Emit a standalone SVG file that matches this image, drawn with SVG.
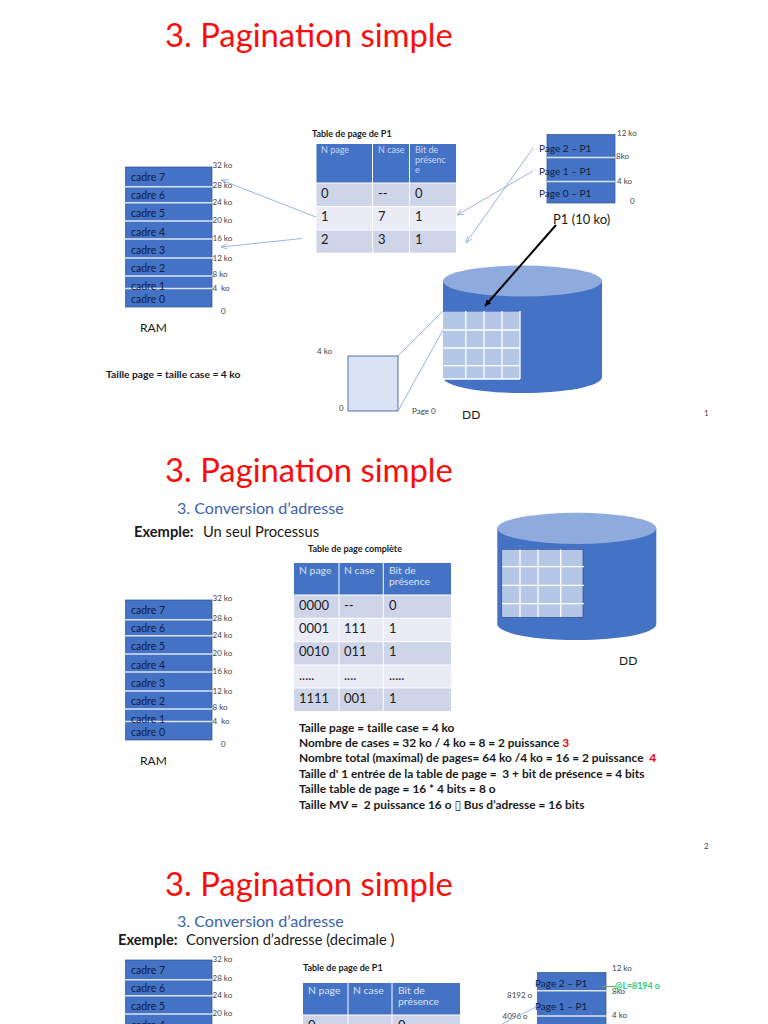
<svg xmlns="http://www.w3.org/2000/svg" width="768" height="1024" viewBox="0 0 768 1024">
<style>
text{font-family:Lato,"Open Sans",sans-serif;fill:#1a1a1a;white-space:pre}
.title{font-size:32.800px;fill:#fb0d0d}
.sub{font-size:16.100px;fill:#3a63ad}
.b{font-weight:700}
.ex{font-size:14.700px}
.ram{fill:#4472c4;stroke:#2f528f;stroke-width:.7}
.sep{stroke:#dbe3f2;stroke-width:1.4}
.cad{font-size:10.500px;fill:#10203f}
.pg{font-size:10px;fill:#10203f}
.ko{font-size:8px;fill:#444}
.lab{font-size:12px}
.big{font-size:13px}
.th{fill:#4472c4}
.r1{fill:#cfd5e8}
.r2{fill:#e9ebf5}
.hdr{font-size:9px;fill:#cdd8f0}
.hdr2{font-size:10.400px;fill:#dce5f6}
.cell{font-size:13px;fill:#222}
.tline{stroke:#fff;stroke-width:1}
.blue{stroke:#8faadc;stroke-width:.9;fill:none}
.bh{font-size:10.300px;font-weight:700}
.bl{font-size:11.900px;font-weight:700}
.tt{font-size:9px;font-weight:700}
.g{fill:#b4c7e7}
.gl{stroke:#fff;stroke-width:1.3}
</style>
<defs>
<marker id="ah" markerWidth="8" markerHeight="8" refX="7" refY="3" orient="auto" markerUnits="userSpaceOnUse"><path d="M0 0L7 3L0 6" fill="none" stroke="#8faadc" stroke-width=".8"/></marker>
<marker id="bk" markerWidth="8" markerHeight="8" refX="6" refY="3" orient="auto" markerUnits="userSpaceOnUse"><path d="M0 0L6 3L0 6z" fill="#000"/></marker>
</defs>

<g id="slide1-title"><text class="title" x="165" y="47">3. Pagination simple</text></g>
<g id="ram1">
<rect class="ram" x="125.500" y="167" width="86.500" height="140"/>
<path class="sep" d="M125 186.700H212M125 202.700H212M125 221H212M125 239H212M125 258H212M125 276H212M125 288.500H212"/>
<text class="cad" x="131" y="181">cadre 7</text><text class="cad" x="131" y="199">cadre 6</text><text class="cad" x="131" y="217">cadre 5</text><text class="cad" x="131" y="235.500">cadre 4</text><text class="cad" x="131" y="254">cadre 3</text><text class="cad" x="131" y="272">cadre 2</text><text class="cad" x="131" y="290">cadre 1</text><text class="cad" x="131" y="303">cadre 0</text>
<text class="ko" x="212.500" y="168">32 ko</text><text class="ko" x="212.500" y="188">28 ko</text><text class="ko" x="212.500" y="205">24 ko</text><text class="ko" x="212.500" y="223">20 ko</text><text class="ko" x="212.500" y="241">16 ko</text><text class="ko" x="212.500" y="261">12 ko</text><text class="ko" x="212.500" y="277">8 ko</text><text class="ko" x="212.500" y="291">4  ko</text><text class="ko" x="221" y="314">0</text>
<text class="lab" x="140" y="332">RAM</text>
</g>
<g id="note1"><text class="bh" x="106" y="378">Taille page = taille case = 4 ko</text></g>
<g id="table1">
<text class="tt" x="312" y="137">Table de page de P1</text>
<rect class="th" x="316.500" y="144" width="139.500" height="39"/>
<rect class="r1" x="316.500" y="183" width="139.500" height="23.500"/><rect class="r2" x="316.500" y="206.500" width="139.500" height="23.500"/><rect class="r1" x="316.500" y="230" width="139.500" height="22.700"/>
<path class="tline" d="M372.500 144V253M409.500 144V253M316 183H456M316 206.500H456M316 230H456"/>
<text class="hdr" x="321" y="153">N page</text><text class="hdr" x="378" y="153">N case</text><text class="hdr" x="415" y="153">Bit de</text><text class="hdr" x="415" y="163">présenc</text><text class="hdr" x="415" y="173">e</text>
<text class="cell" x="321" y="198">0</text><text class="cell" x="378" y="198">--</text><text class="cell" x="415" y="198">0</text>
<text class="cell" x="321" y="221">1</text><text class="cell" x="378" y="221">7</text><text class="cell" x="415" y="221">1</text>
<text class="cell" x="321" y="244">2</text><text class="cell" x="378" y="244">3</text><text class="cell" x="415" y="244">1</text>
</g>
<g id="process1">
<rect class="ram" x="547" y="134.500" width="68" height="68.500"/>
<path class="sep" d="M547 157.500H615M547 181.500H615"/>
<text class="pg" x="539" y="152">Page 2 – P1</text><text class="pg" x="539" y="175">Page 1 – P1</text><text class="pg" x="539" y="196.500">Page 0 – P1</text>
<text class="ko" x="617" y="136">12 ko</text><text class="ko" x="616" y="159">8ko</text><text class="ko" x="617" y="184">4 ko</text><text class="ko" x="630" y="204">0</text>
<text class="big" x="553" y="224">P1 (10 ko)</text>
</g>
<g id="disk1">
<path d="M443 281V377C443 386 478 393 522.500 393S602 386 602 377V281z" fill="#4472c4"/>
<ellipse cx="522.500" cy="281" rx="79.500" ry="15.500" fill="#8faadc"/>
<rect class="g" x="443" y="311.700" width="77" height="67.300"/>
<path class="gl" d="M465.700 311V379M484 311V379M502 311V379M443 330H520M443 348H520M443 365.700H520M520 311V379M443 379H520"/>
<text class="lab" x="462" y="419">DD</text>
</g>
<g id="page0">
<rect x="348" y="356" width="50" height="55" fill="#dae3f3" stroke="#2f528f" stroke-width=".8"/>
<text class="ko" x="317" y="354">4 ko</text><text class="ko" x="339" y="411">0</text><text class="ko" x="412" y="414">Page 0</text>
</g>
<g id="connectors1">
<path class="blue" d="M316 217L221 180" marker-end="url(#ah)"/>
<path class="blue" d="M302 238.500L221 247" marker-end="url(#ah)"/>
<path class="blue" d="M533 148L466 243" marker-end="url(#ah)"/>
<path class="blue" d="M533 171L457 215" marker-end="url(#ah)"/>
<path class="blue" d="M398 356L443 311M398 411L443 330"/>
<path d="M556 225L485 306" stroke="#000" stroke-width="2" fill="none" marker-end="url(#bk)"/>
</g>
<text class="ko" x="704" y="416">1</text>

<g id="slide2-title"><text class="title" x="165" y="482">3. Pagination simple</text><text class="sub" x="177" y="514">3. Conversion d’adresse</text>
<text class="ex b" x="134" y="537">Exemple:</text><text class="ex" x="203" y="537">Un seul Processus</text></g>
<g id="ram2">
<rect class="ram" x="125.500" y="600" width="86.500" height="140"/>
<path class="sep" d="M125 619.700H212M125 635.700H212M125 654H212M125 672H212M125 691H212M125 709H212M125 721.500H212"/>
<text class="cad" x="131" y="614">cadre 7</text><text class="cad" x="131" y="632">cadre 6</text><text class="cad" x="131" y="650">cadre 5</text><text class="cad" x="131" y="668.500">cadre 4</text><text class="cad" x="131" y="687">cadre 3</text><text class="cad" x="131" y="705">cadre 2</text><text class="cad" x="131" y="723">cadre 1</text><text class="cad" x="131" y="736">cadre 0</text>
<text class="ko" x="212.500" y="601">32 ko</text><text class="ko" x="212.500" y="621">28 ko</text><text class="ko" x="212.500" y="638">24 ko</text><text class="ko" x="212.500" y="656">20 ko</text><text class="ko" x="212.500" y="674">16 ko</text><text class="ko" x="212.500" y="694">12 ko</text><text class="ko" x="212.500" y="710">8 ko</text><text class="ko" x="212.500" y="724">4  ko</text><text class="ko" x="221" y="747">0</text>
<text class="lab" x="140" y="765">RAM</text>
</g>
<g id="table2">
<text class="tt" x="308" y="552">Table de page complète</text>
<rect class="th" x="294" y="563" width="157" height="32"/>
<rect class="r1" x="294" y="595" width="157" height="23.300"/><rect class="r2" x="294" y="618.300" width="157" height="23.400"/><rect class="r1" x="294" y="641.700" width="157" height="23.300"/><rect class="r2" x="294" y="665" width="157" height="23"/><rect class="r1" x="294" y="688" width="157" height="23"/>
<path class="tline" d="M339 563V711M383.300 563V711M294 595H451M294 618.300H451M294 641.700H451M294 665H451M294 688H451"/>
<text class="hdr2" x="299" y="574">N page</text><text class="hdr2" x="344" y="574">N case</text><text class="hdr2" x="389" y="574">Bit de</text><text class="hdr2" x="389" y="585">présence</text>
<text class="cell" x="299" y="609.500">0000</text><text class="cell" x="344" y="609.500">--</text><text class="cell" x="389" y="609.500">0</text>
<text class="cell" x="299" y="632.500">0001</text><text class="cell" x="344" y="632.500">111</text><text class="cell" x="389" y="632.500">1</text>
<text class="cell" x="299" y="655.500">0010</text><text class="cell" x="344" y="655.500">011</text><text class="cell" x="389" y="655.500">1</text>
<text class="cell" x="299" y="680">.....</text><text class="cell" x="344" y="680">....</text><text class="cell" x="389" y="680">.....</text>
<text class="cell" x="299" y="702.500">1111</text><text class="cell" x="344" y="702.500">001</text><text class="cell" x="389" y="702.500">1</text>
</g>
<g id="disk2">
<path d="M497.300 528V624C497.300 633 532 640 576.800 640S656.300 633 656.300 624V528z" fill="#4472c4"/>
<ellipse cx="576.800" cy="528.300" rx="79.500" ry="15.600" fill="#8faadc"/>
<rect x="501.700" y="549.300" width="81.300" height="68" fill="#b4c7e7" stroke="#2f528f" stroke-width=".7"/>
<path class="gl" d="M520 549.500V617M538 549.500V617M560.700 549.500V617M502 566.700H584M502 585.300H584M502 603.700H584"/>
<text class="lab" x="619" y="665">DD</text>
</g>
<g id="note2">
<text class="bl" x="299" y="732">Taille page = taille case = 4 ko</text>
<text class="bl" x="299" y="747">Nombre de cases = 32 ko / 4 ko = 8 = 2 puissance <tspan fill="#ff0000">3</tspan></text>
<text class="bl" x="299" y="762">Nombre total (maximal) de pages= 64 ko /4 ko = 16 = 2 puissance  <tspan fill="#ff0000">4</tspan></text>
<text class="bl" x="299" y="778">Taille d' 1 entrée de la table de page =  3 + bit de présence = 4 bits</text>
<text class="bl" x="299" y="793">Taille table de page = 16 * 4 bits = 8 o</text>
<text class="bl" x="299" y="809">Taille MV =  2 puissance 16 o <tspan style="font-weight:400;font-family:'DejaVu Sans',sans-serif">▯</tspan> Bus d’adresse = 16 bits</text>
</g>
<text class="ko" x="704" y="849">2</text>

<g id="slide3-title"><text class="title" x="165" y="896">3. Pagination simple</text><text class="sub" x="177" y="927">3. Conversion d’adresse</text>
<text class="ex b" x="118" y="945">Exemple:</text><text class="ex" x="186" y="945">Conversion d’adresse (decimale )</text></g>
<g id="ram3">
<rect class="ram" x="125.500" y="960" width="86.500" height="70"/>
<path class="sep" d="M125 979.700H212M125 995.700H212M125 1014H212"/>
<text class="cad" x="131" y="974">cadre 7</text><text class="cad" x="131" y="992">cadre 6</text><text class="cad" x="131" y="1010">cadre 5</text><text class="cad" x="131" y="1028.500">cadre 4</text>
<text class="ko" x="212.500" y="962">32 ko</text><text class="ko" x="212.500" y="981">28 ko</text><text class="ko" x="212.500" y="998">24 ko</text><text class="ko" x="212.500" y="1016">20 ko</text>
</g>
<g id="table3">
<text class="tt" x="303" y="971">Table de page de P1</text>
<rect class="th" x="303" y="983" width="157" height="32"/><rect class="r1" x="303" y="1015" width="157" height="12"/>
<path class="tline" d="M348 983V1024M392 983V1024M303 1015H460"/>
<text class="hdr2" x="308" y="994">N page</text><text class="hdr2" x="353" y="994">N case</text><text class="hdr2" x="398" y="994">Bit de</text><text class="hdr2" x="398" y="1005">présence</text>
<text class="cell" x="308" y="1030">0</text><text class="cell" x="353" y="1030">--</text><text class="cell" x="398" y="1030">0</text>
</g>
<g id="process3">
<rect class="ram" x="537.500" y="972.500" width="68.500" height="60"/>
<path class="sep" d="M537 990.700H606M537 1016H606"/>
<text class="pg" x="535" y="987">Page 2 – P1</text><text class="pg" x="535" y="1010">Page 1 – P1</text>
<text class="ko" x="612" y="971">12 ko</text><text class="ko" x="612" y="994">8ko</text><text class="ko" x="612" y="1018">4 ko</text>
<text class="ko" x="507" y="998">8192 o</text><text class="ko" x="502.500" y="1019">4096 o</text>
<path d="M602 986.500H616" stroke="#70ad47" stroke-width="1"/>
<text x="615" y="989" style="font-size:8.800px;font-weight:700;fill:#2ecc71">@L=8194 o</text>
</g>
<g id="connectors3"><path class="blue" d="M537 1006.500L502 1024"/></g>
</svg>
